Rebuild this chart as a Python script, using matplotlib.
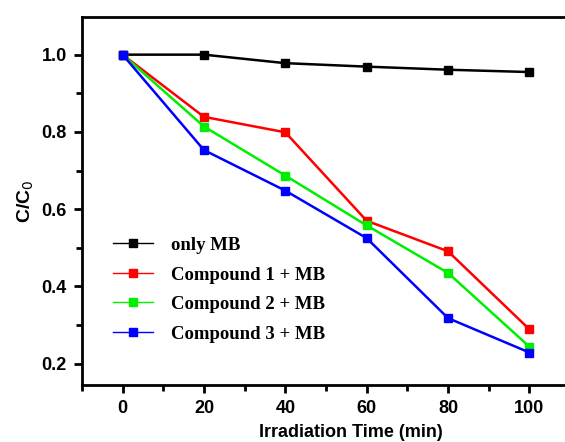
import matplotlib
matplotlib.use("Agg")
from matplotlib import pyplot as plt
from matplotlib.ticker import MultipleLocator

# Photocatalytic degradation of MB under irradiation
time_min = [0, 20, 40, 60, 80, 100]
only_mb = [1.0, 1.0, 0.978, 0.969, 0.961, 0.955]
compound1 = [1.0, 0.839, 0.799, 0.570, 0.491, 0.289]
compound2 = [1.0, 0.814, 0.687, 0.558, 0.435, 0.244]
compound3 = [1.0, 0.753, 0.648, 0.525, 0.318, 0.229]

series = [
    (only_mb, "black", "only MB"),
    (compound1, "#ff0000", "Compound 1 + MB"),
    (compound2, "#00ee00", "Compound 2 + MB"),
    (compound3, "#0000ff", "Compound 3 + MB"),
]

fig = plt.figure(figsize=(5.65, 4.42), dpi=100)
ax = fig.add_axes([0.145, 0.129, 0.864, 0.833])

for vals, col, lab in series:
    ax.plot(time_min, vals, color=col, lw=1.8, marker="s", markersize=6,
            label=lab)

ax.set_xlim(-10, 110)
ax.set_ylim(0.145, 1.098)
ax.xaxis.set_major_locator(MultipleLocator(20))
ax.xaxis.set_minor_locator(MultipleLocator(10))
ax.yaxis.set_major_locator(MultipleLocator(0.2))
ax.yaxis.set_minor_locator(MultipleLocator(0.1))
ax.yaxis.set_major_formatter(plt.FormatStrFormatter("%.1f"))

for s in ax.spines.values():
    s.set_linewidth(2)
ax.tick_params(which="major", direction="out", length=6, width=2,
               labelsize=13, pad=5)
ax.tick_params(which="minor", direction="out", length=4, width=2)
for t in ax.get_xticklabels() + ax.get_yticklabels():
    t.set_fontfamily("Liberation Sans")
    t.set_fontweight("bold")

ax.set_xlabel("Irradiation Time (min)", fontsize=13, fontweight="bold",
              family="Liberation Sans")
ax.xaxis.set_label_coords(0.551, -0.105)
ax.set_ylabel("C/C$_0$", fontsize=14, fontweight="bold",
              family="Liberation Sans", labelpad=4)

leg = ax.legend(loc="upper left", bbox_to_anchor=(0.03, 0.448), frameon=False,
                prop={"family": "Liberation Serif", "weight": "bold",
                      "size": 13.5},
                handlelength=2.1, handletextpad=0.95, labelspacing=0.66,
                markerscale=0.9)
for h in leg.get_lines():
    h.set_linewidth(1.0)

fig.savefig("out.png", dpi=100)
